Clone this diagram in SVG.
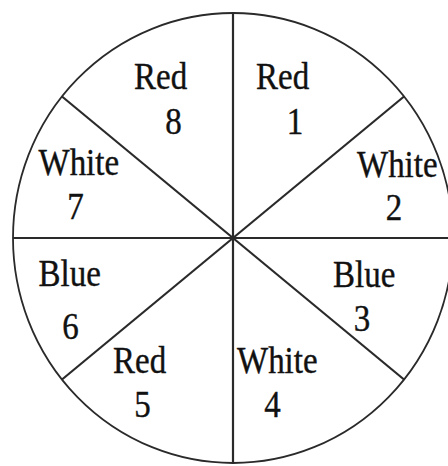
<svg xmlns="http://www.w3.org/2000/svg" width="448" height="466" viewBox="0 0 448 466">
<style>
.ln{stroke:#2a2a2a;stroke-width:2.2;fill:none}
.rim{stroke:#2a2a2a;stroke-width:1.8;fill:none}
text{font-family:"Liberation Serif","Times New Roman",serif;font-size:33px;fill:#111;stroke:#111;stroke-width:0.35}
.d{text-anchor:middle}
</style>
<rect width="448" height="466" fill="#fff"/>
<g id="connectors">
<ellipse class="rim" cx="233" cy="238" rx="220" ry="225"/>
<line class="ln" x1="233" y1="13" x2="233" y2="463"/>
<line class="ln" x1="13" y1="238" x2="448" y2="238"/>
<line class="ln" x1="62" y1="96.5" x2="404" y2="379.5"/>
<line class="ln" x1="404" y1="96.5" x2="62" y2="379.5"/>
</g>
<g id="s1"><text transform="translate(256,89) scale(1,1.12)">Red</text><text class="d" transform="translate(295,134) scale(1,1.12)">1</text></g>
<g id="s2"><text transform="translate(357,176.5) scale(1,1.12)">White</text><text class="d" transform="translate(394,220) scale(1,1.12)">2</text></g>
<g id="s3"><text transform="translate(333,286.5) scale(1,1.12)">Blue</text><text class="d" transform="translate(362,331) scale(1,1.12)">3</text></g>
<g id="s4"><text transform="translate(237,373) scale(1,1.12)">White</text><text class="d" transform="translate(272.5,417) scale(1,1.12)">4</text></g>
<g id="s5"><text transform="translate(113,373) scale(1,1.12)">Red</text><text class="d" transform="translate(142.5,417) scale(1,1.12)">5</text></g>
<g id="s6"><text transform="translate(38.5,286) scale(1,1.12)">Blue</text><text class="d" transform="translate(70.5,339) scale(1,1.12)">6</text></g>
<g id="s7"><text transform="translate(38.5,175) scale(1,1.12)">White</text><text class="d" transform="translate(75.5,219) scale(1,1.12)">7</text></g>
<g id="s8"><text transform="translate(134,89) scale(1,1.12)">Red</text><text class="d" transform="translate(173.5,134) scale(1,1.12)">8</text></g>
</svg>
